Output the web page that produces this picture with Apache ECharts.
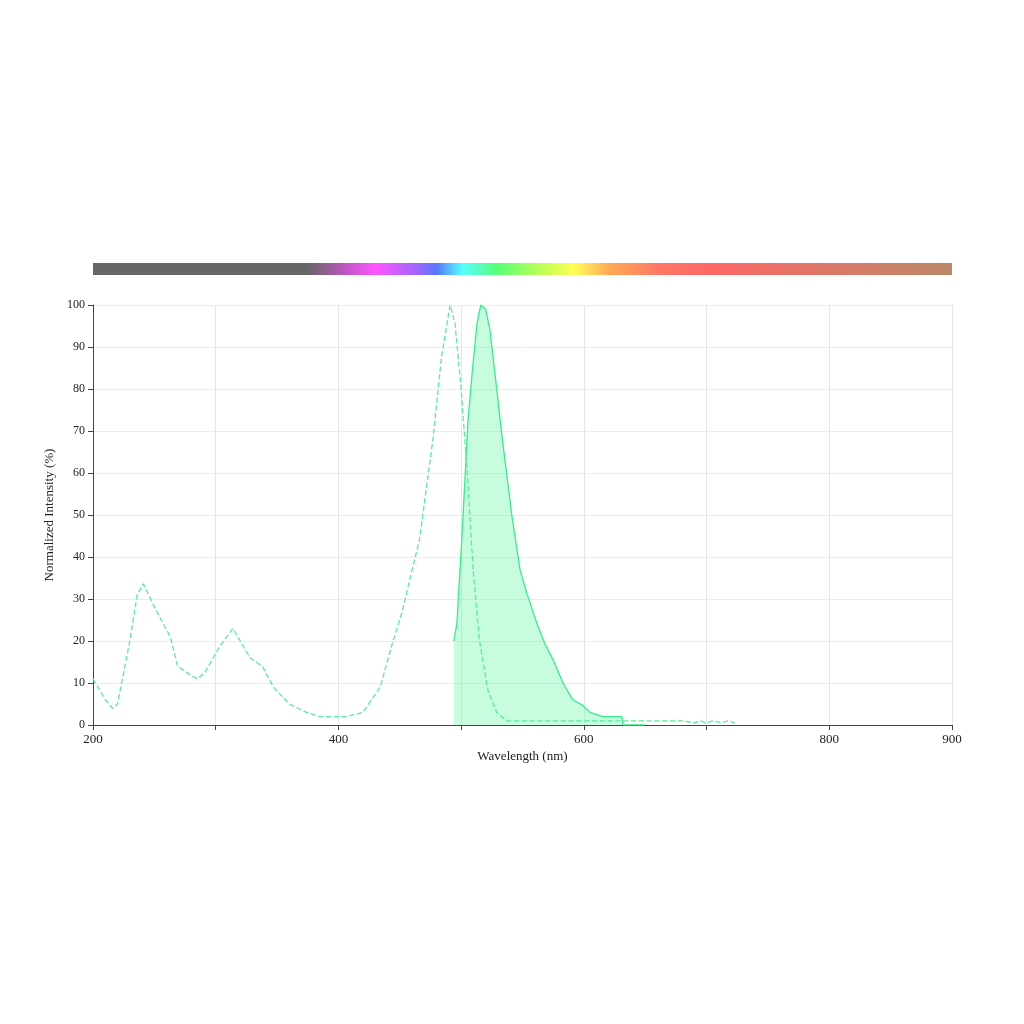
<!DOCTYPE html>
<html><head><meta charset="utf-8">
<script src="https://cdn.jsdelivr.net/npm/echarts@6/dist/echarts.min.js"></script>
<style>html,body{margin:0;padding:0;background:#fff}#c{width:1024px;height:1024px}</style>
</head><body><div id="c"></div>
<script>
const excitation = [[200,11],[210,6],[216,4],[220,5],[230,20],[236,31],[241,33.6],[252,27],[263,21],[269,14],[279,12],[285,11],[291,12.4],[303,18.6],[314,23],[328,16],[338,14],[347,9],[360,5],[374,3],[385,2],[407,2],[420,3],[434,9],[444,19.5],[452,27],[458,34.5],[466,44],[477,68],[484,87.6],[491,100],[495,95.7],[500,80],[505,60],[510,36],[515,20],[522,8],[529,3],[537,1],[600,1],[680,1],[690,0.5],[695,1],[700,0.5],[705,1],[712,0.5],[718,1],[723,0.5]];
const emission = [[494,20],[496.5,24],[500.5,44],[505.5,72],[509,84],[513,95.7],[516,100],[520,99],[523.5,94],[529,80],[533,69.5],[537,60],[541.5,49.5],[548,37],[553.5,31.4],[562,24],[568,19.5],[575,15.5],[583,10],[591,6],[598.5,4.8],[605,3],[615.5,2],[631,2],[632,0],[650,0]];
const xTicks = [200,400,600,800,900];
const chart = echarts.init(document.getElementById('c'));
const F = 'Liberation Serif';
chart.setOption({
  animation:false,
  textStyle:{fontFamily:F},
  grid:{left:93,right:72,top:305,bottom:299},
  graphic:[{type:'rect',shape:{x:93,y:263,width:859,height:12},style:{fill:new echarts.graphic.LinearGradient(0,0,1,0,[
    {offset:0,color:'#666'},{offset:0.25,color:'#666'},{offset:0.3,color:'#cc55cc'},{offset:0.33,color:'#ff55ff'},
    {offset:0.38,color:'#9966ff'},{offset:0.4,color:'#5577ff'},{offset:0.43,color:'#55ffff'},{offset:0.47,color:'#55ff77'},
    {offset:0.52,color:'#bbff55'},{offset:0.56,color:'#ffff55'},{offset:0.6,color:'#ffaa55'},{offset:0.66,color:'#ff7766'},
    {offset:0.72,color:'#ff6666'},{offset:0.85,color:'#dd7766'},{offset:1,color:'#bb8866'}])}}],
  xAxis:{type:'value',min:200,max:900,interval:100,name:'Wavelength (nm)',nameLocation:'middle',nameGap:25,
    nameTextStyle:{color:'#222',fontSize:13,fontFamily:F},
    axisLine:{lineStyle:{color:'#444'}},axisTick:{lineStyle:{color:'#444'},length:5,interval:function(i,v){return xTicks.includes(v);}},
    axisLabel:{color:'#222',fontSize:13,fontFamily:F,showMaxLabel:true,formatter:v=>xTicks.includes(v)?String(v):''},
    splitLine:{show:true,lineStyle:{color:'#e6e6e6'}}},
  yAxis:{type:'value',min:0,max:100,interval:10,name:'Normalized Intensity (%)',nameLocation:'middle',nameGap:36,
    nameTextStyle:{color:'#222',fontSize:13,fontFamily:F},
    axisLine:{show:true,lineStyle:{color:'#444'}},axisTick:{show:true,length:5,lineStyle:{color:'#444'}},
    axisLabel:{color:'#222',fontSize:12,fontFamily:F},
    splitLine:{lineStyle:{color:'#ececec'}}},
  series:[
    {type:'line',data:excitation,showSymbol:false,lineStyle:{color:'#55ee99',width:1.3,type:'dashed'},z:3},
    {type:'line',data:emission,showSymbol:false,lineStyle:{color:'#33ee88',width:1.3},areaStyle:{color:'rgba(80,250,150,0.45)'},z:2}
  ]
});
</script></body></html>
